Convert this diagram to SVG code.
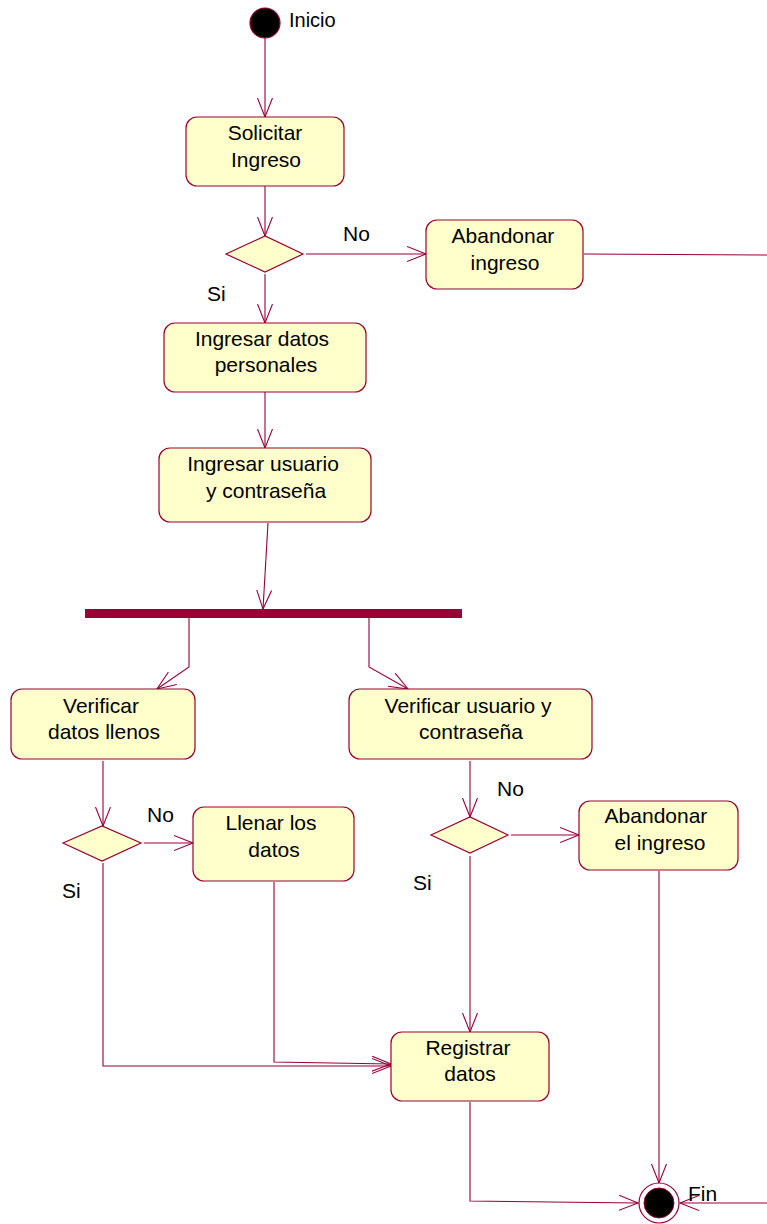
<svg xmlns="http://www.w3.org/2000/svg" width="767" height="1224" viewBox="0 0 767 1224">
  <style>
    .act { fill: #FFFFCC; stroke: #990033; stroke-width: 1.2; }
    .dec { fill: #FFFFCC; stroke: #990033; stroke-width: 1.2; }
    .txt { font-family: "Liberation Sans", Arial, sans-serif; font-size: 21px; fill: #000; }
    .mid { text-anchor: middle; }
    .flow { fill: none; stroke: #990033; stroke-width: 1.1; }
    .arr { marker-end: url(#open); }
  </style>
  <defs>
    <marker id="open" markerUnits="userSpaceOnUse" markerWidth="22" markerHeight="18" refX="19" refY="8" orient="auto">
      <path d="M0,0.5 L19,8 L0,15.5" fill="none" stroke="#990033" stroke-width="1.1"/>
    </marker>
  </defs>
  <rect width="767" height="1224" fill="#FFFFFF"/>

  <!-- transitions -->
  <g id="connectors">
    <path class="flow arr" d="M265,38 L265,117"/>
    <path class="flow arr" d="M265,186 L265,236"/>
    <path class="flow arr" d="M306,254 L426,254"/>
    <path class="flow arr" d="M265,274 L265,323"/>
    <path class="flow" d="M584,254 L767,255"/>
    <path class="flow arr" d="M265,392 L265,448"/>
    <path class="flow arr" d="M268,523 L263,609"/>
    <path class="flow arr" d="M189,618 L189,667 L157,689"/>
    <path class="flow arr" d="M369,618 L369,667 L408,689"/>
    <path class="flow arr" d="M103,761 L103,826"/>
    <path class="flow arr" d="M144,843 L193,843"/>
    <path class="flow arr" d="M103,863 L103,1066 L391,1066"/>
    <path class="flow arr" d="M274,882 L274,1062 L391,1064"/>
    <path class="flow arr" d="M470,761 L470,817"/>
    <path class="flow arr" d="M511,835 L579,835"/>
    <path class="flow arr" d="M470,856 L470,1032"/>
    <path class="flow arr" d="M659,871 L659,1183"/>
    <path class="flow arr" d="M470,1102 L470,1201 L638,1203"/>
    <path class="flow arr" d="M767,1203 L680,1203"/>
  </g>

  <!-- guard labels -->
  <g id="labels">
    <text class="txt" x="343" y="241">No</text>
    <text class="txt" x="207" y="301">Si</text>
    <text class="txt" x="147" y="822">No</text>
    <text class="txt" x="62" y="898">Si</text>
    <text class="txt" x="497" y="796">No</text>
    <text class="txt" x="413" y="890">Si</text>
  </g>

  <g id="inicio">
    <circle cx="265" cy="23" r="15" fill="#000" stroke="#990033" stroke-width="1.2"/>
    <text class="txt" x="289" y="27" style="font-size:20px">Inicio</text>
  </g>

  <g id="solicitar-ingreso">
    <rect class="act" x="186" y="117" width="158" height="69" rx="11"/>
    <text class="txt mid" x="265" y="140">Solicitar</text>
    <text class="txt mid" x="266" y="167">Ingreso</text>
  </g>

  <g id="decision-ingreso">
    <polygon class="dec" points="226,254 265,236 303,254 265,272"/>
  </g>

  <g id="abandonar-ingreso">
    <rect class="act" x="426" y="220" width="157" height="69" rx="11"/>
    <text class="txt mid" x="503" y="243">Abandonar</text>
    <text class="txt mid" x="505" y="270">ingreso</text>
  </g>

  <g id="ingresar-datos">
    <rect class="act" x="164" y="323" width="202" height="69" rx="11"/>
    <text class="txt mid" x="262" y="346">Ingresar datos</text>
    <text class="txt mid" x="266" y="372">personales</text>
  </g>

  <g id="ingresar-usuario">
    <rect class="act" x="159" y="448" width="212" height="74" rx="11"/>
    <text class="txt mid" x="263" y="471">Ingresar usuario</text>
    <text class="txt mid" x="266" y="498">y contraseña</text>
  </g>

  <g id="fork">
    <rect x="85" y="609" width="377" height="9" fill="#990033"/>
  </g>

  <g id="verificar-datos">
    <rect class="act" x="11" y="689" width="184" height="70" rx="11"/>
    <text class="txt mid" x="101" y="713">Verificar</text>
    <text class="txt mid" x="104" y="739">datos llenos</text>
  </g>

  <g id="verificar-usuario">
    <rect class="act" x="349" y="689" width="243" height="70" rx="11"/>
    <text class="txt mid" x="468" y="713">Verificar usuario y</text>
    <text class="txt mid" x="471" y="739">contraseña</text>
  </g>

  <g id="decision-datos">
    <polygon class="dec" points="63,843 102,826 141,843 102,861"/>
  </g>

  <g id="llenar-datos">
    <rect class="act" x="193" y="807" width="161" height="74" rx="11"/>
    <text class="txt mid" x="271" y="830">Llenar los</text>
    <text class="txt mid" x="274" y="857">datos</text>
  </g>

  <g id="decision-usuario">
    <polygon class="dec" points="431,835 470,817 508,835 470,853"/>
  </g>

  <g id="abandonar-el-ingreso">
    <rect class="act" x="579" y="801" width="159" height="69" rx="11"/>
    <text class="txt mid" x="656" y="823">Abandonar</text>
    <text class="txt mid" x="660" y="850">el ingreso</text>
  </g>

  <g id="registrar-datos">
    <rect class="act" x="391" y="1032" width="158" height="69" rx="11"/>
    <text class="txt mid" x="468" y="1055">Registrar</text>
    <text class="txt mid" x="470" y="1081">datos</text>
  </g>

  <g id="fin">
    <circle cx="659" cy="1203" r="20" fill="#FFFFFF" stroke="#990033" stroke-width="1.2"/>
    <circle cx="659" cy="1203" r="15" fill="#000" stroke="#990033" stroke-width="1"/>
    <text class="txt" x="688" y="1201">Fin</text>
  </g>
</svg>
